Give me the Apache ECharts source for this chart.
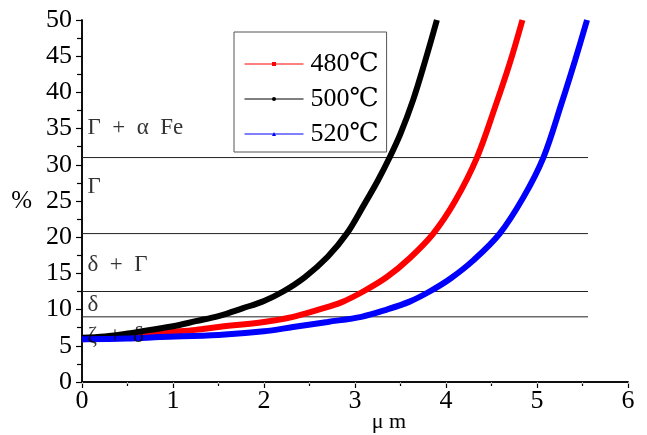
<!DOCTYPE html>
<html>
<head>
<meta charset="utf-8">
<script src="https://cdn.jsdelivr.net/npm/echarts@6/dist/echarts.min.js"></script>
<style>html,body{margin:0;padding:0;background:#fff}#c{width:647px;height:435px}</style>
</head>
<body>
<div id="c"></div>
<script>
// ---- data ----
const seriesNames = ['480℃', '500℃', '520℃'];
const curve480 = [[0,5.9],[0.5,6.2],[0.86,6.8],[1.25,7.2],[1.5,7.6],[2.0,8.3],[2.32,9.0],[2.6,10.0],[2.85,11.0],[3.09,12.5],[3.35,14.5],[3.6,17.1],[3.86,20.5],[4.1,25.0],[4.34,31.0],[4.54,38.0],[4.7,44.0],[4.84,50.0]];
const curve500 = [[0,6.1],[0.25,6.3],[0.5,6.7],[0.75,7.2],[1.0,7.7],[1.25,8.4],[1.5,9.1],[1.77,10.2],[2.0,11.2],[2.21,12.5],[2.45,14.5],[2.7,17.3],[2.91,20.5],[3.1,24.5],[3.25,27.8],[3.38,31.0],[3.5,34.3],[3.64,39.0],[3.77,44.3],[3.9,50.0]];
const curve520 = [[0,5.9],[0.5,6.0],[0.86,6.2],[1.5,6.5],[2.0,7.0],[2.32,7.6],[2.7,8.3],[3.07,9.0],[3.35,10.0],[3.6,11.1],[3.82,12.5],[4.05,14.3],[4.3,16.8],[4.59,20.5],[4.85,25.5],[5.07,31.0],[5.27,38.5],[5.42,44.5],[5.55,50.0]];
const phaseBoundaries = [31, 20.5, 12.5, 9];
const boundaryEndX = 5.56;
const phaseLabels = ['Γ  +  α  Fe', 'Γ', 'δ  +  Γ', 'δ', 'ζ  +  δ'];
const phaseLabelY = [35.1, 26.9, 16.1, 10.6, 6.3];
const phaseLabelX = 0.06;
const xTicks = [0, 1, 2, 3, 4, 5, 6];
const yTicks = [0, 5, 10, 15, 20, 25, 30, 35, 40, 45, 50];

const serif = "'Liberation Serif', 'DejaVu Serif', serif";
const chart = echarts.init(document.getElementById('c'), null, {renderer: 'canvas'});

const curveSeries = [
  {name: seriesNames[0], data: curve480, color: '#ff0000', symbol: 'rect'},
  {name: seriesNames[1], data: curve500, color: '#000000', symbol: 'circle'},
  {name: seriesNames[2], data: curve520, color: '#0000ff', symbol: 'triangle'}
].map(s => ({
  name: s.name, type: 'line', data: s.data, smooth: 0.35,
  symbol: s.symbol, showSymbol: false, symbolSize: 5,
  color: s.color, lineStyle: {color: s.color, width: 6},
  itemStyle: {color: s.color}, z: 3, silent: true
}));

const boundarySeries = phaseBoundaries.map(v => ({
  type: 'line', data: [[0, v], [boundaryEndX, v]], symbol: 'none',
  lineStyle: {color: '#222', width: 1}, z: 2, silent: true
}));

const labelSeries = {
  type: 'scatter', symbolSize: 0, z: 10, silent: true,
  data: phaseLabels.map((t, i) => ({name: t, value: [phaseLabelX, phaseLabelY[i]]})),
  label: {show: true, position: 'right', distance: 0, formatter: '{b}',
          fontFamily: serif, fontSize: 23, color: '#000'}
};

chart.setOption({
  animation: false,
  backgroundColor: '#fff',
  grid: {left: 82, right: 19, top: 20, bottom: 53, containLabel: false, outerBoundsMode: 'none'},
  legend: {
    data: seriesNames, orient: 'vertical', left: 234, top: 32,
    padding: [19, 8, 5, 10], itemGap: 9, itemWidth: 59, itemHeight: 5,
    borderColor: '#555', borderWidth: 1,
    lineStyle: {width: 1},
    textStyle: {fontFamily: serif, fontSize: 26, color: '#000', padding: [0, 0, 0, 2]}
  },
  xAxis: [{
    type: 'value', min: xTicks[0], max: xTicks[xTicks.length - 1], interval: 1,
    name: 'μ m', nameLocation: 'middle', nameGap: 29, nameMoveOverlap: false,
    nameTextStyle: {fontFamily: serif, fontSize: 22, color: '#000', padding: [0, 0, 0, 68]},
    axisLine: {show: true, lineStyle: {color: '#000', width: 1.5}},
    axisTick: {show: true, inside: false, length: 6, lineStyle: {color: '#000', width: 1.2}},
    minorTick: {show: true, splitNumber: 2, length: 4, lineStyle: {color: '#000', width: 1.2}},
    axisLabel: {fontFamily: serif, fontSize: 26, color: '#000', margin: 6},
    splitLine: {show: false}
  }, {
    type: 'value', position: 'top', min: xTicks[0], max: xTicks[xTicks.length - 1], interval: 0.5,
    axisLine: {show: true, lineStyle: {color: '#000', width: 1.5}},
    axisTick: {show: true, inside: true, length: 2, lineStyle: {color: '#aaa', width: 1}},
    axisLabel: {show: false}, splitLine: {show: false}
  }],
  yAxis: [{
    type: 'value', min: yTicks[0], max: yTicks[yTicks.length - 1], interval: 5,
    name: '%', nameLocation: 'middle', nameGap: 50, nameRotate: 0, nameMoveOverlap: false,
    nameTextStyle: {fontFamily: serif, fontSize: 25, color: '#000', padding: [0, 0, 18, 0]},
    axisLine: {show: true, lineStyle: {color: '#000', width: 1.5}},
    axisTick: {show: true, inside: false, length: 6, lineStyle: {color: '#000', width: 1.2}},
    minorTick: {show: true, splitNumber: 2, length: 5, lineStyle: {color: '#000', width: 1.2}},
    axisLabel: {fontFamily: serif, fontSize: 26, color: '#000', margin: 10},
    splitLine: {show: false}
  }, {
    type: 'value', position: 'right', min: yTicks[0], max: yTicks[yTicks.length - 1], interval: 2.5,
    axisLine: {show: true, lineStyle: {color: '#000', width: 1.5}},
    axisTick: {show: true, inside: true, length: 3, lineStyle: {color: '#000', width: 1}},
    axisLabel: {show: false}, splitLine: {show: false}
  }],
  series: [...boundarySeries, ...curveSeries, labelSeries]
});
</script>
</body>
</html>
